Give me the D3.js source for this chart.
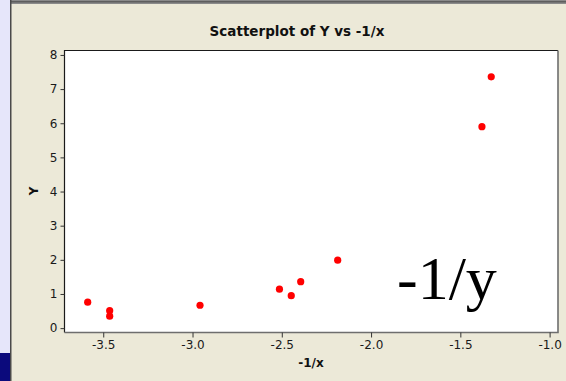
<!DOCTYPE html>
<html>
<head>
<meta charset="utf-8">
<script src="https://cdn.jsdelivr.net/npm/d3@7"></script>
<style>
  html, body { margin: 0; padding: 0; background: #ECE9D8; }
  svg { display: block; }
</style>
</head>
<body>
<svg id="chart" width="566" height="381"></svg>
<script>
// Observations: transformed predictor (-1/x) and response Y
const xValues = [-3.587, -3.464, -3.464, -2.958, -2.513, -2.447, -2.394, -2.187, -1.379, -1.327];
const yValues = [0.76, 0.51, 0.35, 0.67, 1.14, 0.95, 1.36, 1.99, 5.90, 7.36];
const xTicks = [-3.5, -3.0, -2.5, -2.0, -1.5, -1.0];
const yTicks = [0, 1, 2, 3, 4, 5, 6, 7, 8];
const titleText = "Scatterplot of Y vs -1/x";
const xLabel = "-1/x";
const yLabel = "Y";
const noteText = "-1/y";

const W = 566, H = 381;
const plot = { left: 64.5, top: 50.5, right: 558, bottom: 332.5 };

const svg = d3.select("#chart");

// window chrome around the graph pane
svg.append("rect").attr("x", 0).attr("y", 0).attr("width", W).attr("height", H).attr("fill", "#ECE9D8");
svg.append("rect").attr("x", 0).attr("y", 0).attr("width", 10).attr("height", H).attr("fill", "#E6E6FA");
svg.append("rect").attr("x", 0).attr("y", 353).attr("width", 10).attr("height", H - 353).attr("fill", "#0B0A7C");
svg.append("rect").attr("x", 10).attr("y", 0).attr("width", W - 10).attr("height", 4).attr("fill", "#8A8A8A");
svg.append("rect").attr("x", 10).attr("y", 1).attr("width", W - 10).attr("height", 1.5).attr("fill", "#5E5E5E");
svg.append("rect").attr("x", 10).attr("y", 0).attr("width", 1.5).attr("height", H).attr("fill", "#4A4A4A");

const x = d3.scaleLinear().domain([-3.717, -0.953]).range([plot.left, plot.right]);
const y = d3.scaleLinear().domain([-0.128, 8.13]).range([plot.bottom, plot.top]);

// data region
svg.append("rect")
  .attr("x", plot.left).attr("y", plot.top)
  .attr("width", plot.right - plot.left).attr("height", plot.bottom - plot.top)
  .attr("fill", "#FFFFFF");

// frame: dark top/left, grey shadowed right/bottom
svg.append("path")
  .attr("d", `M${plot.left},${plot.bottom}V${plot.top}H${plot.right}`)
  .attr("fill", "none").attr("stroke", "#1A1A1A").attr("stroke-width", 1.2);
svg.append("path")
  .attr("d", `M${plot.right},${plot.top}V${plot.bottom}H${plot.left}`)
  .attr("fill", "none").attr("stroke", "#6E6E6E").attr("stroke-width", 1.6);

const tickFont = "'DejaVu Sans', Verdana, sans-serif";
// plain hyphen for negatives, as in the worksheet output
const fmtX = d => d3.format(".1f")(d).replace("\u2212", "-");

const xAxis = svg.append("g")
  .attr("transform", `translate(0,${plot.bottom})`)
  .call(d3.axisBottom(x).tickValues(xTicks).tickFormat(fmtX).tickSize(5).tickSizeOuter(0).tickPadding(3));
xAxis.select(".domain").remove();
xAxis.selectAll("line").attr("stroke", "#333");
xAxis.selectAll("text").attr("font-family", tickFont).attr("font-size", 12).attr("fill", "#1A1A1A");

const yAxis = svg.append("g")
  .attr("transform", `translate(${plot.left},0)`)
  .call(d3.axisLeft(y).tickValues(yTicks).tickFormat(d3.format("d")).tickSize(4).tickSizeOuter(0).tickPadding(3));
yAxis.select(".domain").remove();
yAxis.selectAll("line").attr("stroke", "#333");
yAxis.selectAll("text").attr("font-family", tickFont).attr("font-size", 12).attr("fill", "#1A1A1A");

// points
const pts = xValues.map((v, i) => ({ x: v, y: yValues[i] }));
svg.append("g").selectAll("circle")
  .data(pts).join("circle")
  .attr("cx", d => x(d.x)).attr("cy", d => y(d.y))
  .attr("r", 3.6).attr("fill", "#FF0000");

// titles
svg.append("text")
  .attr("x", 297).attr("y", 36)
  .attr("text-anchor", "middle")
  .attr("font-family", tickFont).attr("font-weight", "bold").attr("font-size", 13.5)
  .attr("fill", "#111").text(titleText);

svg.append("text")
  .attr("x", 311).attr("y", 367)
  .attr("text-anchor", "middle")
  .attr("font-family", tickFont).attr("font-weight", "bold").attr("font-size", 12)
  .attr("fill", "#111").text(xLabel);

svg.append("text")
  .attr("transform", "translate(38,191) rotate(-90)")
  .attr("text-anchor", "middle")
  .attr("font-family", tickFont).attr("font-weight", "bold").attr("font-size", 12)
  .attr("fill", "#111").text(yLabel);

// annotation
svg.append("text")
  .attr("x", 397).attr("y", 299)
  .attr("font-family", "'Liberation Serif', 'Times New Roman', serif").attr("font-size", 62)
  .attr("fill", "#000").text(noteText);
</script>
</body>
</html>
